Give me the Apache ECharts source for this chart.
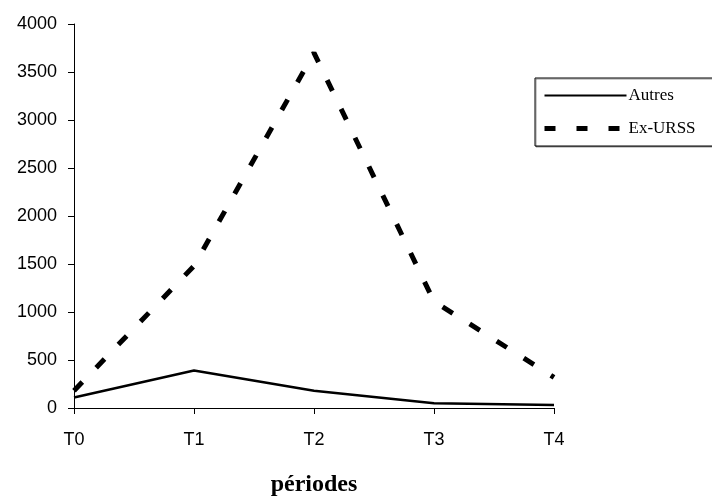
<!DOCTYPE html>
<html>
<head>
<meta charset="utf-8">
<script src="https://cdn.jsdelivr.net/npm/echarts@6/dist/echarts.min.js"></script>
<style>
  html, body { margin: 0; padding: 0; background: #fff; }
  #chart { width: 712px; height: 496px; }
</style>
</head>
<body>
<div id="chart"></div>
<script>
// données
var periodes = ['T0', 'T1', 'T2', 'T3', 'T4']
var autres = [110, 390, 180, 50, 30]
var exUrss = [180, 1480, 3700, 1110, 320]

var myChart = echarts.init(document.getElementById('chart'))

var option = {
  animation: false,
  grid: { left: 74, right: 158, top: 24, bottom: 88, containLabel: false, outerBoundsMode: 'none' },
  legend: {
    orient: 'vertical',
    left: 535,
    top: 78,
    data: [
      { name: 'Autres', lineStyle: { width: 2 } },
      { name: 'Ex-URSS', lineStyle: { width: 5, type: [11, 21] } }
    ],
    itemWidth: 82,
    itemHeight: 14,
    itemGap: 16,
    padding: [9, 60, 9, 7],
    borderColor: '#000',
    borderWidth: 1,
    backgroundColor: '#fff',
    shadowColor: 'rgba(0,0,0,0.4)',
    shadowOffsetX: 1,
    shadowOffsetY: 1,
    itemStyle: { opacity: 0 },
    textStyle: { fontFamily: 'Liberation Serif', fontSize: 17, color: '#000', padding: [0, 0, 0, -3] }
  },
  xAxis: {
    type: 'category',
    data: periodes,
    boundaryGap: false,
    name: 'périodes',
    nameLocation: 'middle',
    nameGap: 65,
    nameTextStyle: { fontFamily: 'Liberation Serif', fontSize: 24, fontWeight: 'bold', color: '#000' },
    axisLine: { lineStyle: { color: '#000', width: 1 } },
    axisTick: { alignWithLabel: true, length: 6, lineStyle: { color: '#000' } },
    axisLabel: { fontFamily: 'Liberation Sans', fontSize: 18, color: '#000', margin: 23 },
    splitLine: { show: false }
  },
  yAxis: {
    type: 'value',
    min: 0,
    max: 4000,
    interval: 500,
    axisLine: { show: true, lineStyle: { color: '#000', width: 1 } },
    axisTick: { show: true, length: 6, lineStyle: { color: '#000' } },
    axisLabel: {
      fontFamily: 'Liberation Sans', fontSize: 18, color: '#000', margin: 17,
      formatter: function (v) { return String(v) }
    },
    splitLine: { show: false }
  },
  series: [
    {
      name: 'Autres',
      type: 'line',
      data: autres,
      symbol: 'none',
      lineStyle: { color: '#000', width: 2.5 },
      itemStyle: { color: '#000' }
    },
    {
      name: 'Ex-URSS',
      type: 'line',
      data: exUrss,
      symbol: 'none',
      lineStyle: { color: '#000', width: 5, type: [12, 20], cap: 'butt' },
      itemStyle: { color: '#000' }
    }
  ]
}

myChart.setOption(option)
</script>
</body>
</html>
